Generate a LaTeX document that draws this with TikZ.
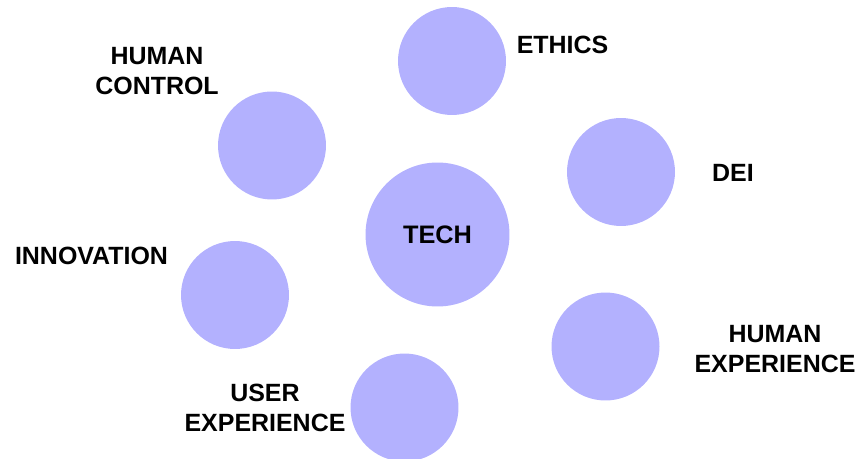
\documentclass[tikz,border=0pt]{standalone}
\usepackage{fontspec}
\setmainfont{Liberation Sans}
\usetikzlibrary{positioning}
\definecolor{lavender}{HTML}{B3B1FE}

\begin{document}
\begin{tikzpicture}[
  x=0.02cm, y=-0.02cm,
  topic/.style={circle, fill=lavender, minimum size=2.16cm, inner sep=0pt},
  hub/.style={topic, minimum size=2.88cm, font=\bfseries\fontsize{14.4}{17.1}\selectfont},
  tag/.style={inner sep=0pt, align=center, font=\bfseries\fontsize{14.2}{17.1}\selectfont}
]
  \useasboundingbox (0,0) rectangle (858,459);

  % circles
  \node[hub] (tech) at (437.5,234.5) {TECH};
  \node[topic] (ethics) at (452,61) {};
  \node[topic] (ctrl) at (272,145.5) {};
  \node[topic] (dei) at (621,172) {};
  \node[topic] (innov) at (235,295) {};
  \node[topic] (humexp) at (605.5,346.5) {};
  \node[topic] (userexp) at (404.5,407.5) {};

  % labels
  \node[tag] (ethicslbl) at (562.5,44.5) {ETHICS};
  \node[tag] (ctrllbl) at (157,71) {HUMAN\\CONTROL};
  \node[tag] (deilbl) at (733,173) {DEI};
  \node[tag] (innovlbl) at (91.5,256) {INNOVATION};
  \node[tag] (humexplbl) at (775,349) {HUMAN\\EXPERIENCE};
  \node[tag] (userexplbl) at (265,408) {USER\\EXPERIENCE};
\end{tikzpicture}
\end{document}
